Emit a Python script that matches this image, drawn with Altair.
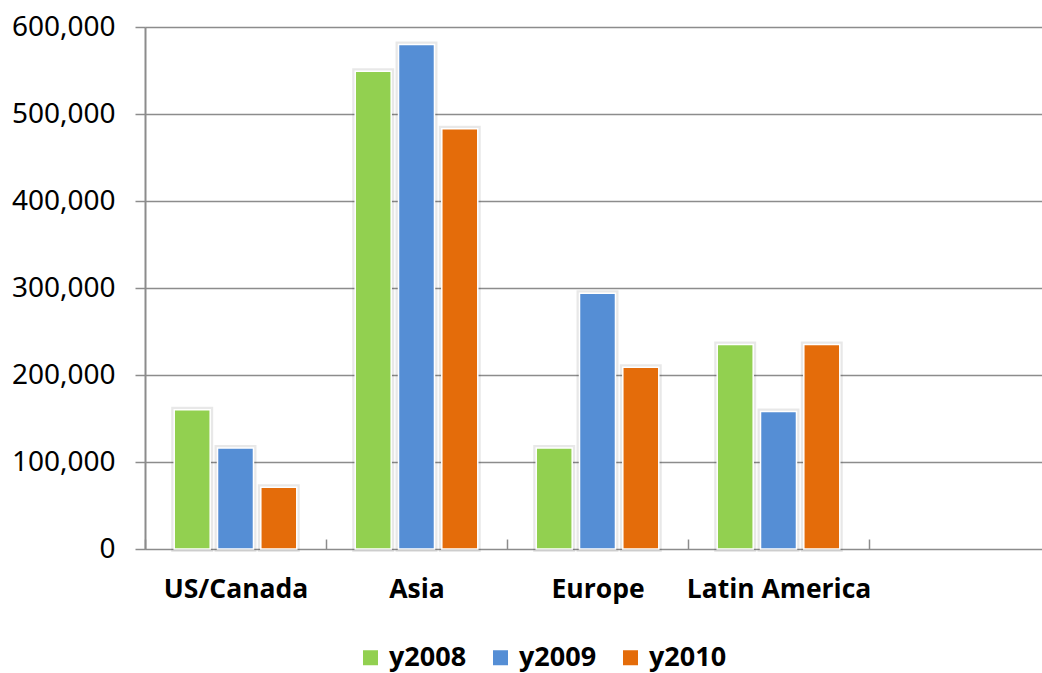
import altair as alt
import pandas as pd

# Sales by region, three years
regions = ["US/Canada", "Asia", "Europe", "Latin America"]
axis_slots = regions + [" "]  # trailing empty slot on the category axis
years = ["y2008", "y2009", "y2010"]
y2008 = [160000, 549000, 116000, 235000]
y2009 = [116000, 580000, 294000, 158000]
y2010 = [71000, 483000, 209000, 235000]
colors = ["#92D050", "#558ED5", "#E46C0A"]
y_ticks = [0, 100000, 200000, 300000, 400000, 500000, 600000]

rows = []
for year, series in zip(years, [y2008, y2009, y2010]):
    for region, value in zip(regions, series):
        rows.append({"region": region, "year": year, "value": value})
df = pd.DataFrame(rows)

GRID = "#8c8c8c"
LABEL_FONT = "Open Sans"

x_enc = alt.X(
    "region:N",
    sort=axis_slots,
    scale=alt.Scale(domain=axis_slots, range=[0, 905], paddingInner=0, paddingOuter=0),
    axis=alt.Axis(
        title=None,
        orient="bottom",
        offset=-10,
        domain=False,
        grid=False,
        ticks=True,
        tickBand="extent",
        tickSize=10,
        tickWidth=1.5,
        tickColor=GRID,
        labelAngle=0,
        labelPadding=27,
        labelLimit=0,
        labelFont=LABEL_FONT,
        labelFontWeight="bold",
        labelFontSize=26.5,
        labelColor="#000000",
    ),
)
y_enc = alt.Y(
    "value:Q",
    scale=alt.Scale(domain=[0, 600000], nice=False),
    axis=alt.Axis(
        title=None,
        values=y_ticks,
        format=",.0f",
        grid=True,
        gridColor=GRID,
        gridWidth=1.5,
        domain=True,
        domainColor=GRID,
        domainWidth=2,
        ticks=True,
        tickSize=10,
        tickWidth=1.5,
        tickColor=GRID,
        labelPadding=20,
        labelFont="Noto Sans",
        labelFontSize=28,
        labelColor="#000000",
    ),
)
xoff_enc = alt.XOffset(
    "year:N",
    sort=years,
    scale=alt.Scale(domain=years, paddingInner=0.169, paddingOuter=0.675),
)

base = alt.Chart(df).encode(x=x_enc, y=y_enc, xOffset=xoff_enc)

# soft shadow around each bar
shadow = base.mark_bar(
    fill="#000000",
    fillOpacity=0,
    stroke="#000000",
    strokeOpacity=0.09,
    strokeWidth=6,
)

bars = base.mark_bar(stroke="#ffffff", strokeWidth=1.5).encode(
    color=alt.Color(
        "year:N",
        sort=years,
        scale=alt.Scale(domain=years, range=colors),
        legend=alt.Legend(
            title=None,
            orient="none",
            legendX=212,
            legendY=617,
            direction="horizontal",
            symbolType="square",
            symbolSize=225,
            symbolStrokeWidth=0,
            labelFont=LABEL_FONT,
            labelFontWeight="bold",
            labelFontSize=27,
            labelColor="#000000",
            labelOffset=5,
            labelLimit=0,
            columnPadding=20,
            padding=0,
        ),
    )
)

chart = (
    alt.layer(shadow, bars)
    .properties(
        width=897,
        height=522,
        autosize=alt.AutoSizeParams(type="none"),
        padding={"left": 145, "top": 27, "right": 0, "bottom": 124},
    )
    .configure_view(stroke=None)
    .configure(background="#ffffff")
)

chart.save("out.html", embed_options={"renderer": "svg", "actions": False})
